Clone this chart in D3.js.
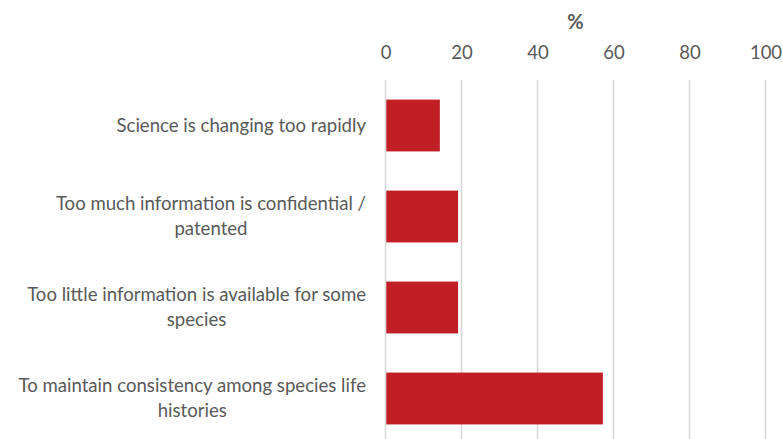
<!DOCTYPE html>
<html>
<head>
<meta charset="utf-8">
<script src="https://cdn.jsdelivr.net/npm/d3@7"></script>
<style>
  html, body { margin: 0; padding: 0; background: #fff; }
  svg { display: block; }
</style>
</head>
<body>
<svg id="chart" width="783" height="439"></svg>
<script>
// Reasons given, share of respondents (%)
const categories = [
  ["Science is changing too rapidly"],
  ["Too much information is confidential /", "patented"],
  ["Too little information is available for some", "species"],
  ["To maintain consistency among species life", "histories"]
];
const values = [14.3, 19.1, 19.1, 57.2];
const tickValues = [0, 20, 40, 60, 80, 100];
const axisTitle = "%";

const W = 783, H = 439;
const margin = { top: 80, right: 17.5, bottom: -5, left: 385.5 };
const fontFamily = "Lato, 'Open Sans', sans-serif";
const textColor = "#595959";

const svg = d3.select("#chart");

const x = d3.scaleLinear()
  .domain([0, 100])
  .range([margin.left, W - margin.right]);

const y = d3.scaleBand()
  .domain(d3.range(categories.length))
  .range([margin.top, H - margin.bottom])
  .paddingInner(0.43)
  .paddingOuter(0.215);

// vertical gridlines
svg.append("g")
  .selectAll("line")
  .data(tickValues)
  .join("line")
  .attr("x1", d => x(d)).attr("x2", d => x(d))
  .attr("y1", margin.top).attr("y2", H)
  .attr("stroke", "#d9d9d9")
  .attr("stroke-width", 1.6);

// top axis labels
const axis = svg.append("g")
  .attr("transform", `translate(0,${margin.top})`)
  .call(d3.axisTop(x).tickValues(tickValues).tickSize(0).tickPadding(21));
axis.select(".domain").remove();
axis.selectAll("text")
  .attr("fill", textColor)
  .attr("font-family", fontFamily)
  .attr("font-size", 18.5);

// axis title
svg.append("text")
  .attr("x", x(50))
  .attr("y", 29)
  .attr("text-anchor", "middle")
  .attr("font-family", fontFamily)
  .attr("font-weight", "bold")
  .attr("font-size", 20)
  .attr("fill", textColor)
  .text(axisTitle);

// bars
svg.append("g")
  .selectAll("rect")
  .data(values)
  .join("rect")
  .attr("x", x(0) + 0.8)
  .attr("y", (d, i) => y(i))
  .attr("width", d => x(d) - x(0) - 0.8)
  .attr("height", y.bandwidth())
  .attr("fill", "#c01f26");

// category labels: block right-aligned to the axis, lines centred within it
const labelRight = 366;
const lineH = 24.5;
const labels = svg.append("g")
  .attr("font-family", fontFamily)
  .attr("font-size", 18.6)
  .attr("fill", textColor);

categories.forEach((lines, i) => {
  const g = labels.append("g");
  const texts = lines.map(l => g.append("text").attr("text-anchor", "middle").text(l));
  const maxW = d3.max(texts, t => t.node().getComputedTextLength());
  const cx = labelRight - maxW / 2;
  const cy = y(i) + y.bandwidth() / 2;
  const first = cy - (lines.length - 1) * lineH / 2 + 6;
  texts.forEach((t, k) => t.attr("x", cx).attr("y", first + k * lineH));
});
</script>
</body>
</html>
